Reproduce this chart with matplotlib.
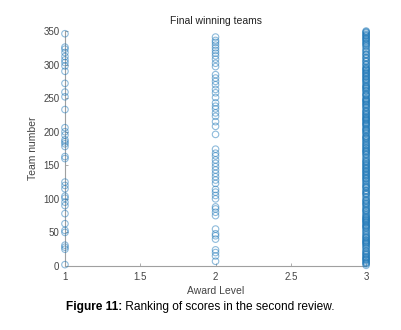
import matplotlib
matplotlib.use("Agg")
import matplotlib.pyplot as plt

plt.rcParams['font.family'] = ['Liberation Sans', 'DejaVu Sans']

title = "Final winning teams"
xlabel = "Award Level"
ylabel = "Team number"
caption_bold = "Figure 11:"
caption_rest = " Ranking of scores in the second review."

x_ticks = [1, 1.5, 2, 2.5, 3]
x_ticklabels = ["1", "1.5", "2", "2.5", "3"]
y_ticks = [0, 50, 100, 150, 200, 250, 300, 350]

level1_teams = [2, 25, 28, 31, 50, 53, 63, 78, 90, 95, 101, 104, 115, 120, 125,
                160, 163, 178, 182, 185, 188, 195, 200, 206, 233, 252, 259, 272,
                290, 298, 303, 307, 312, 318, 323, 326, 346]

level2_teams = [7, 15, 20, 24, 40, 45, 48, 55, 75, 80, 85, 88, 100, 105, 110, 114,
                123, 128, 133, 138, 143, 148, 153, 158, 164, 168, 174, 196, 208,
                215, 223, 228, 234, 238, 243, 251, 258, 263, 270, 275, 280, 285,
                297, 302, 308, 313, 317, 321, 325, 329, 333, 336, 341]

level3_teams = [1, 3, 4, 5, 6, 8, 9, 10, 11, 12, 13, 14, 16, 17, 18, 19, 21, 22, 23,
                26, 27, 29, 30, 32, 33, 34, 35, 36, 37, 38, 39, 41, 42, 43, 44, 46,
                47, 49, 51, 52, 54, 56, 57, 58, 59, 60, 61, 62, 64, 65, 66, 67, 68,
                69, 70, 71, 72, 73, 74, 76, 77, 79, 81, 82, 83, 84, 86, 87, 89, 91,
                92, 93, 94, 96, 97, 98, 99, 102, 103, 106, 107, 108, 109, 111, 112,
                113, 116, 117, 118, 119, 121, 122, 124, 126, 127, 129, 130, 131,
                132, 134, 135, 136, 137, 139, 140, 141, 142, 144, 145, 146, 147,
                149, 150, 151, 152, 154, 155, 156, 157, 159, 161, 162, 165, 166,
                167, 169, 170, 171, 172, 173, 175, 176, 177, 179, 180, 181, 183,
                184, 186, 187, 189, 190, 191, 192, 193, 194, 197, 198, 199, 201,
                202, 203, 204, 205, 207, 209, 210, 211, 212, 213, 214, 216, 217,
                218, 219, 220, 221, 222, 224, 225, 226, 227, 229, 230, 231, 232,
                235, 236, 237, 239, 240, 241, 242, 244, 245, 246, 247, 248, 249,
                250, 253, 254, 255, 256, 257, 260, 261, 262, 264, 265, 266, 267,
                268, 269, 271, 273, 274, 276, 277, 278, 279, 281, 282, 283, 284,
                286, 287, 288, 289, 291, 292, 293, 294, 295, 296, 299, 300, 301,
                304, 305, 306, 309, 310, 311, 314, 315, 316, 319, 320, 322, 324,
                327, 328, 330, 331, 332, 334, 335, 337, 338, 339, 340, 342, 343,
                344, 345, 347, 348, 349, 350]

levels = [1, 2, 3]
teams_by_level = [level1_teams, level2_teams, level3_teams]

fig = plt.figure(figsize=(4.01, 3.30), dpi=100)
ax = fig.add_axes([0.162, 0.194, 0.751, 0.712])

marker_color = '#1f78b8'
for lvl, teams in zip(levels, teams_by_level):
    ax.scatter([lvl] * len(teams), teams, s=22, facecolors='none',
               edgecolors=marker_color, linewidths=0.8, alpha=0.5, zorder=3,
               clip_on=False)

ax.set_xlim(1, 3)
ax.set_ylim(0, 350)
ax.set_xticks(x_ticks)
ax.set_xticklabels(x_ticklabels)
ax.set_yticks(y_ticks)
for s in ['top', 'right']:
    ax.spines[s].set_visible(False)
for s in ['left', 'bottom']:
    ax.spines[s].set_color('#a0a0a0')
    ax.spines[s].set_linewidth(0.8)
ax.tick_params(direction='in', length=2.5, width=0.6, color='#a0a0a0',
               labelsize=7, labelcolor='#444444', pad=4)

ax.set_title(title, fontsize=7.5, color='#222222', pad=5)
ax.set_xlabel(xlabel, fontsize=7.5, color='#444444', labelpad=3)
ax.set_ylabel(ylabel, fontsize=7.5, color='#444444', labelpad=4)

# Caption with bold prefix
fig.canvas.draw()
renderer = fig.canvas.get_renderer()
t1 = fig.text(0, 0.06, caption_bold, fontsize=8.6, fontweight='bold', color='black')
t2 = fig.text(0, 0.06, caption_rest, fontsize=8.6, color='black')
w1 = t1.get_window_extent(renderer).width
w2 = t2.get_window_extent(renderer).width
W = fig.get_figwidth() * fig.dpi
x0 = (W - (w1 + w2)) / 2
t1.set_x(x0 / W)
t2.set_x((x0 + w1) / W)

fig.savefig("out.png", dpi=100)
